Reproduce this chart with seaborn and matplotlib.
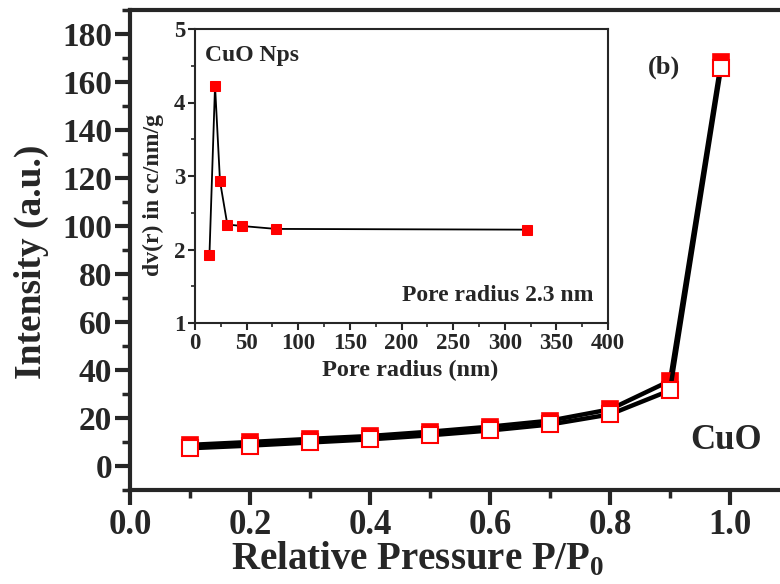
import matplotlib
matplotlib.use('Agg')
import matplotlib.pyplot as plt
from matplotlib.ticker import MultipleLocator
import seaborn as sns
import pandas as pd

# isotherm data
pressure = [0.1, 0.2, 0.3, 0.4, 0.5, 0.6, 0.7, 0.8, 0.9, 0.985]
adsorption = [8.8, 10.0, 11.3, 12.5, 14.3, 16.4, 18.9, 23.6, 35.5, 168.3]
desorption = [7.4, 8.5, 9.8, 11.1, 12.8, 14.8, 17.3, 21.5, 31.5, 165.8]

# pore size distribution (inset)
pore_radius = [14, 19.4, 24.2, 31.3, 45.2, 78.4, 321.3]
dvr = [1.93, 4.23, 2.93, 2.34, 2.32, 2.28, 2.27]

sns.set_style('ticks')
plt.rcParams['font.family'] = ['Liberation Serif', 'DejaVu Serif']
plt.rcParams['font.weight'] = 'bold'
plt.rcParams['axes.labelweight'] = 'bold'
plt.rcParams['mathtext.fontset'] = 'custom'
plt.rcParams['mathtext.rm'] = 'Liberation Serif:bold'
plt.rcParams['mathtext.bf'] = 'Liberation Serif:bold'

df = pd.DataFrame({'P': pressure, 'ads': adsorption, 'des': desorption})
df_in = pd.DataFrame({'r': pore_radius, 'dv': dvr})

fig = plt.figure(figsize=(7.8, 5.84), dpi=100)
ax = fig.add_axes([130 / 780, 94 / 584, 660 / 780, 480 / 584])

sns.lineplot(data=df, x='P', y='ads', ax=ax, color='black', lw=3.2,
             marker='s', markersize=12, markerfacecolor='red',
             markeredgecolor='red', markeredgewidth=1.2, zorder=3)
sns.lineplot(data=df, x='P', y='des', ax=ax, color='black', lw=3.2,
             marker='s', markersize=12, markerfacecolor='white',
             markeredgecolor='red', markeredgewidth=1.5, zorder=4)

ax.set_xlim(0, 1.1)
ax.set_ylim(-10, 190)
ax.xaxis.set_minor_locator(MultipleLocator(0.1))
ax.yaxis.set_major_locator(MultipleLocator(20))
ax.yaxis.set_minor_locator(MultipleLocator(10))
ax.set_xticks([0.0, 0.2, 0.4, 0.6, 0.8, 1.0])
ax.set_xticklabels(['0.0', '0.2', '0.4', '0.6', '0.8', '1.0'])
ax.tick_params(axis='x', which='major', length=11, width=3, labelsize=25, pad=3)
ax.tick_params(axis='y', which='major', length=11, width=3, labelsize=24, pad=2)
ax.tick_params(which='minor', length=6, width=2.5)
for s in ax.spines.values():
    s.set_linewidth(3)
ax.set_xlabel('Relative Pressure P/P$_{\\mathbf{0}}$', fontsize=28)
ax.set_ylabel('Intensity (a.u.)', fontsize=27)
ax.xaxis.set_label_coords(0.436, -0.105)
ax.yaxis.set_label_coords(-0.122, 0.475)

ax.text(0.958, 0.069, 'CuO', transform=ax.transAxes, fontsize=25,
        ha='right', va='bottom')
ax.text(0.809, 0.881, '(b)', transform=ax.transAxes, fontsize=19,
        ha='center', va='center')

# inset
axi = fig.add_axes([195 / 780, 261 / 584, 413 / 780, 294 / 584])
sns.lineplot(data=df_in, x='r', y='dv', ax=axi, color='black', lw=1.3,
             marker='s', markersize=7, markerfacecolor='red',
             markeredgecolor='red')
axi.set_xlim(0, 400)
axi.set_ylim(1, 5)
axi.xaxis.set_major_locator(MultipleLocator(50))
axi.xaxis.set_minor_locator(MultipleLocator(25))
axi.yaxis.set_major_locator(MultipleLocator(1))
axi.yaxis.set_minor_locator(MultipleLocator(0.5))
axi.tick_params(which='major', length=5, width=1.5, labelsize=16.5, pad=2)
axi.tick_params(which='minor', length=3, width=1.2)
for s in axi.spines.values():
    s.set_linewidth(1.5)
axi.set_xlabel('Pore radius (nm)', fontsize=17.5)
axi.set_ylabel('dv(r) in cc/nm/g', fontsize=17)
axi.xaxis.set_label_coords(0.52, -0.125)
axi.yaxis.set_label_coords(-0.075, 0.435)
axi.text(0.025, 0.91, 'CuO Nps', transform=axi.transAxes, fontsize=17,
         ha='left', va='center')
axi.text(0.965, 0.095, 'Pore radius 2.3 nm', transform=axi.transAxes,
         fontsize=17, ha='right', va='center')

fig.savefig('out.png', dpi=100)
